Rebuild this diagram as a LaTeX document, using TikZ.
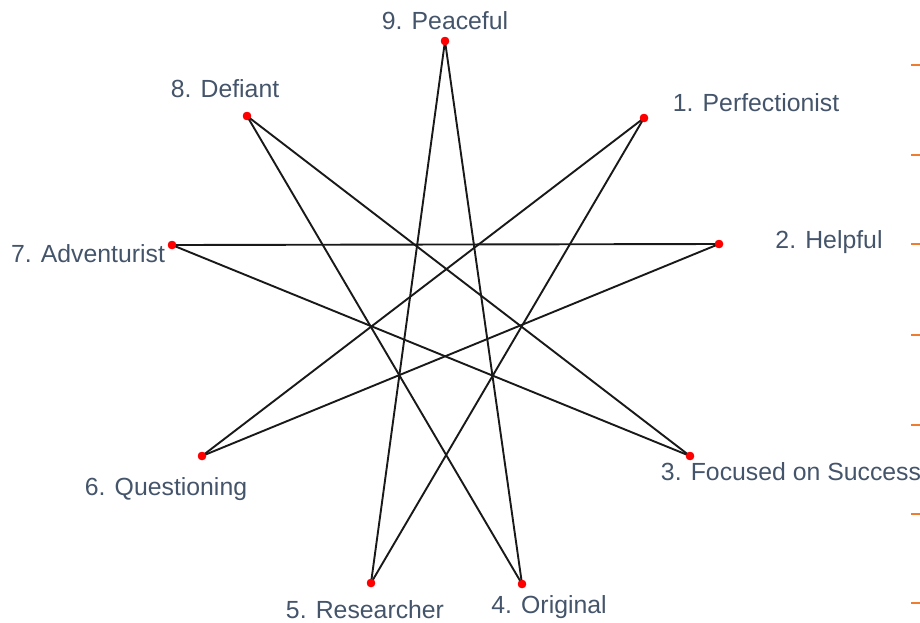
\documentclass[tikz,border=0pt]{standalone}
\usepackage{fontspec}
\setmainfont{Liberation Sans}
\usepackage{tikz}
\usetikzlibrary{positioning}
\definecolor{labelslate}{RGB}{68,84,106}
\definecolor{tickorange}{RGB}{237,125,49}

\begin{document}
\begin{tikzpicture}[
        x=0.5pt, y=-0.5pt,
        vertex/.style={circle, fill=red, draw=none, inner sep=0pt, minimum size=4.2pt},
        edge/.style={draw=black!90, line width=0.95pt},
        typelabel/.style={anchor=base, inner sep=0pt, text=labelslate, font=\fontsize{12.4}{14}\selectfont},
        tick/.style={draw=tickorange, line width=0.8pt}
      ]
      \useasboundingbox (0,0) rectangle (920,622);

      % points of the star
      \node[vertex] (p9) at (445,41) {};
      \node[vertex] (p1) at (644,118) {};
      \node[vertex] (p2) at (719,244) {};
      \node[vertex] (p3) at (690,456) {};
      \node[vertex] (p4) at (522,584) {};
      \node[vertex] (p5) at (371,583) {};
      \node[vertex] (p6) at (202,456) {};
      \node[vertex] (p7) at (172,245) {};
      \node[vertex] (p8) at (247,116) {};

      \draw[edge] (p1.center) -- (p5.center);
      \draw[edge] (p2.center) -- (p6.center);
      \draw[edge] (p3.center) -- (p7.center);
      \draw[edge] (p4.center) -- (p8.center);
      \draw[edge] (p5.center) -- (p9.center);
      \draw[edge] (p6.center) -- (p1.center);
      \draw[edge] (p7.center) -- (p2.center);
      \draw[edge] (p8.center) -- (p3.center);
      \draw[edge] (p9.center) -- (p4.center);

      % redraw dots over the lines
      \foreach \p in {p1,p2,p3,p4,p5,p6,p7,p8,p9}
        \fill[red] (\p) circle (2.1pt);

      \node[typelabel] (l9) at (445,29) {9. Peaceful};
      \node[typelabel] (l1) at (756,111) {1. Perfectionist};
      \node[typelabel] (l2) at (829,248) {2. Helpful};
      \node[typelabel] (l3) at (791,480) {3. Focused on Success};
      \node[typelabel] (l4) at (549,613) {4. Original};
      \node[typelabel] (l5) at (365,618) {5. Researcher};
      \node[typelabel] (l6) at (166,495) {6. Questioning};
      \node[typelabel] (l7) at (88,262) {7. Adventurist};
      \node[typelabel] (l8) at (225,97) {8. Defiant};

      % axis ticks at the right edge
      \draw[tick] (911,65) -- (920,65);
      \draw[tick] (911,155) -- (920,155);
      \draw[tick] (911,244) -- (920,244);
      \draw[tick] (911,335) -- (920,335);
      \draw[tick] (911,425) -- (920,425);
      \draw[tick] (911,514) -- (920,514);
      \draw[tick] (911,603) -- (920,603);
    \end{tikzpicture}
\end{document}
